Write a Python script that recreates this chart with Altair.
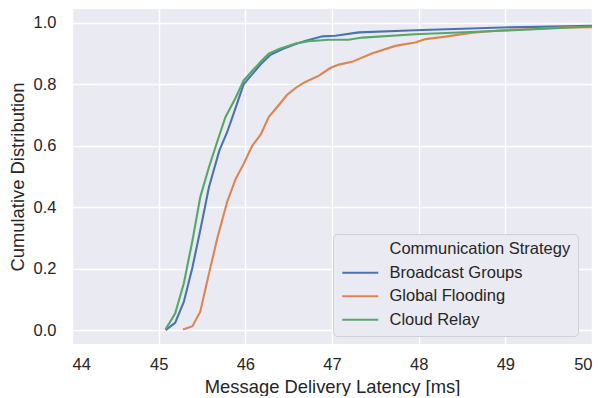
import altair as alt
import pandas as pd

series_names = ["Broadcast Groups", "Global Flooding", "Cloud Relay"]
legend_header = "Communication Strategy"
colors = ["#4c72b0", "#dd8452", "#55a868"]

bg_x = [45.08, 45.19, 45.29, 45.39, 45.48, 45.58, 45.70, 45.79, 45.89, 45.98, 46.08, 46.18, 46.29,
        46.43, 46.58, 46.70, 46.89, 47.04, 47.31, 47.96, 48.96, 50.0]
bg_y = [0.0, 0.024, 0.092, 0.205, 0.325, 0.465, 0.584, 0.644, 0.725, 0.80, 0.833, 0.866, 0.896,
        0.915, 0.931, 0.942, 0.956, 0.958, 0.969, 0.976, 0.985, 0.990]

gf_x = [45.28, 45.39, 45.48, 45.58, 45.68, 45.79, 45.89, 45.98, 46.08, 46.18, 46.27, 46.37, 46.48,
        46.58, 46.68, 46.85, 46.98, 47.08, 47.23, 47.46, 47.73, 47.96, 48.08, 48.31, 48.62, 48.96,
        49.35, 49.65, 50.0]
gf_y = [0.002, 0.013, 0.06, 0.184, 0.303, 0.417, 0.493, 0.541, 0.60, 0.638, 0.693, 0.727, 0.765,
        0.788, 0.806, 0.828, 0.853, 0.864, 0.873, 0.90, 0.925, 0.936, 0.947, 0.955, 0.968, 0.976,
        0.98, 0.985, 0.986]

cr_x = [45.08, 45.19, 45.29, 45.39, 45.48, 45.58, 45.68, 45.77, 45.89, 45.98, 46.08, 46.18, 46.27,
        46.39, 46.58, 46.73, 46.96, 47.19, 47.35, 47.96, 48.96, 50.0]
cr_y = [0.003, 0.054, 0.152, 0.292, 0.433, 0.53, 0.617, 0.693, 0.757, 0.812, 0.844, 0.874, 0.90,
        0.915, 0.933, 0.940, 0.945, 0.945, 0.952, 0.963, 0.974, 0.988]

x_ticks = [44, 45, 46, 47, 48, 49, 50]
y_ticks = [0.0, 0.2, 0.4, 0.6, 0.8, 1.0]

rows = []
for name, xs, ys in [(series_names[0], bg_x, bg_y), (series_names[1], gf_x, gf_y), (series_names[2], cr_x, cr_y)]:
    for i, (a, b) in enumerate(zip(xs, ys)):
        rows.append({"series": name, "x": a, "y": b, "order": i})
df = pd.DataFrame(rows)

FONT = "Liberation Sans"
TXT = "#262626"

chart = alt.Chart(df).mark_line(strokeWidth=2.1, clip=True).encode(
    x=alt.X("x:Q", title="Message Delivery Latency [ms]",
            scale=alt.Scale(domain=[44, 50], nice=False, zero=False),
            axis=alt.Axis(values=x_ticks, format="d", labelPadding=12, titlePadding=5)),
    y=alt.Y("y:Q", title="Cumulative Distribution",
            scale=alt.Scale(domain=[-0.045, 1.045], nice=False, zero=False),
            axis=alt.Axis(values=y_ticks, format=".1f", labelPadding=16, titlePadding=6)),
    color=alt.Color("series:N",
                    scale=alt.Scale(domain=[legend_header] + series_names,
                                    range=["transparent"] + colors),
                    legend=alt.Legend(title=None, orient="none", legendX=261, legendY=225,
                                      symbolType="M-3,0H3", symbolSize=144, symbolStrokeWidth=2.1,
                                      symbolOffset=12,
                                      labelFontSize=16.5, labelFont=FONT, labelColor=TXT,
                                      labelLimit=400,
                                      rowPadding=6.5, padding=7, labelOffset=21,
                                      fillColor="#eaeaf2", strokeColor="#cfcfd6",
                                      cornerRadius=4)),
    detail="series:N",
    order="order:Q",
).properties(
    width=520, height=335, background="white",
    padding={"top": 1, "left": 0, "right": 0, "bottom": 0}
).configure_view(
    fill="#eaeaf2", stroke=None
).configure_axis(
    grid=True, gridColor="white", gridWidth=1.4, domain=False, ticks=False,
    labelFont=FONT, labelFontSize=16.5, labelColor=TXT,
    titleFont=FONT, titleFontSize=18.4, titleColor=TXT, titleFontWeight="normal",
)

chart.save("out.html", embed_options={"renderer": "svg", "actions": False})
